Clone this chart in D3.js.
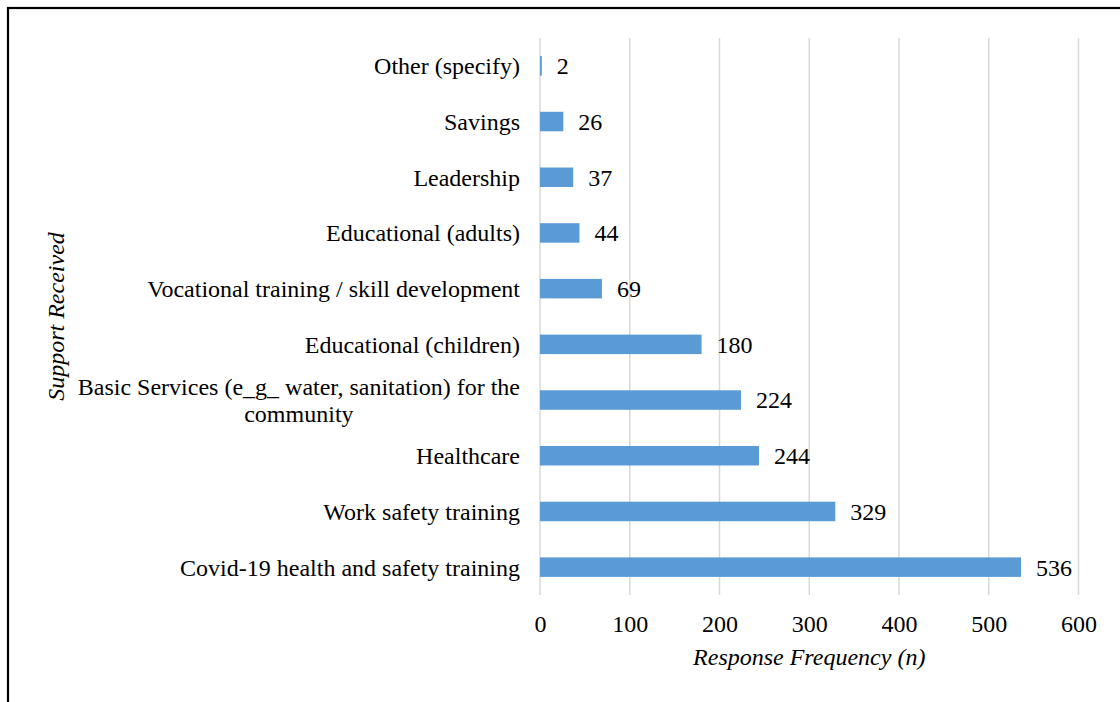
<!DOCTYPE html>
<html>
<head>
<meta charset="utf-8">
<script src="https://cdn.jsdelivr.net/npm/d3@7"></script>
<style>
  html, body { margin: 0; padding: 0; background: #fff; }
  svg { display: block; }
</style>
</head>
<body>
<svg id="chart" width="1120" height="702"></svg>
<script>
// Support received, listed from top to bottom
const categories = [
  "Other (specify)",
  "Savings",
  "Leadership",
  "Educational (adults)",
  "Vocational training / skill development",
  "Educational (children)",
  "Basic Services (e_g_ water, sanitation) for the|community",
  "Healthcare",
  "Work safety training",
  "Covid-19 health and safety training"
];
const responses = [2, 26, 37, 44, 69, 180, 224, 244, 329, 536];
const xTicks = [0, 100, 200, 300, 400, 500, 600];

const svg = d3.select("#chart");
const font = "'Liberation Serif', 'Times New Roman', serif";
const fs = 24;

// Outer frame
svg.append("rect")
  .attr("x", 8).attr("y", 8)
  .attr("width", 1130).attr("height", 720)
  .attr("fill", "none").attr("stroke", "#000").attr("stroke-width", 2.2);

const plot = { left: 540, right: 1078.5, top: 38, bottom: 595 };

const x = d3.scaleLinear().domain([0, 600]).range([plot.left, plot.right]);
const y = d3.scaleBand().domain(categories).range([plot.top, plot.bottom]).paddingInner(0.65).paddingOuter(0.325);

// Vertical gridlines
svg.append("g").selectAll("line").data(xTicks).join("line")
  .attr("x1", d => x(d)).attr("x2", d => x(d))
  .attr("y1", plot.top).attr("y2", plot.bottom)
  .attr("stroke", "#d9d9d9").attr("stroke-width", 1.5);

// Bars
svg.append("g").selectAll("rect").data(categories).join("rect")
  .attr("x", x(0))
  .attr("y", d => y(d))
  .attr("width", (d, i) => x(responses[i]) - x(0))
  .attr("height", y.bandwidth())
  .attr("fill", "#5b9bd5");

// Value labels
svg.append("g").selectAll("text").data(categories).join("text")
  .attr("x", (d, i) => x(responses[i]) + 15)
  .attr("y", d => y(d) + y.bandwidth() / 2)
  .attr("dy", "0.35em")
  .attr("font-family", font).attr("font-size", fs).attr("fill", "#000")
  .text((d, i) => responses[i]);

// Category labels (multi-line labels are centred as a block, right-aligned to the axis)
const catG = svg.append("g");
categories.forEach(c => {
  const lines = c.split("|");
  const cy = y(c) + y.bandwidth() / 2;
  if (lines.length === 1) {
    catG.append("text")
      .attr("x", 520).attr("y", cy).attr("dy", "0.35em")
      .attr("text-anchor", "end")
      .attr("font-family", font).attr("font-size", fs).attr("fill", "#000")
      .text(lines[0]);
  } else {
    const t = catG.append("text")
      .attr("font-family", font).attr("font-size", fs).attr("fill", "#000")
      .attr("text-anchor", "middle");
    const tspans = lines.map((ln, i) => t.append("tspan").text(ln));
    const widths = tspans.map(s => s.node().getComputedTextLength());
    const w = Math.max(...widths);
    const cx = 520 - w / 2;
    const lh = 27;
    tspans.forEach((s, i) => {
      s.attr("x", cx).attr("y", cy + (i - (lines.length - 1) / 2) * lh).attr("dy", "0.35em");
    });
  }
});

// X axis tick labels
const xAxis = d3.axisBottom(x).tickValues(xTicks).tickSize(0).tickPadding(0);
const ax = svg.append("g").attr("transform", `translate(0, ${plot.bottom + 37})`).call(xAxis);
ax.select(".domain").remove();
ax.selectAll("text")
  .attr("font-family", font).attr("font-size", fs).attr("fill", "#000")
  .attr("dy", "0");

// Axis titles
svg.append("text")
  .attr("x", (plot.left + plot.right) / 2).attr("y", 665)
  .attr("text-anchor", "middle")
  .attr("font-family", font).attr("font-size", fs).attr("font-style", "italic")
  .text("Response Frequency (n)");

svg.append("text")
  .attr("transform", `translate(64, ${(plot.top + plot.bottom) / 2}) rotate(-90)`)
  .attr("text-anchor", "middle")
  .attr("font-family", font).attr("font-size", fs).attr("font-style", "italic")
  .text("Support Received");
</script>
</body>
</html>
